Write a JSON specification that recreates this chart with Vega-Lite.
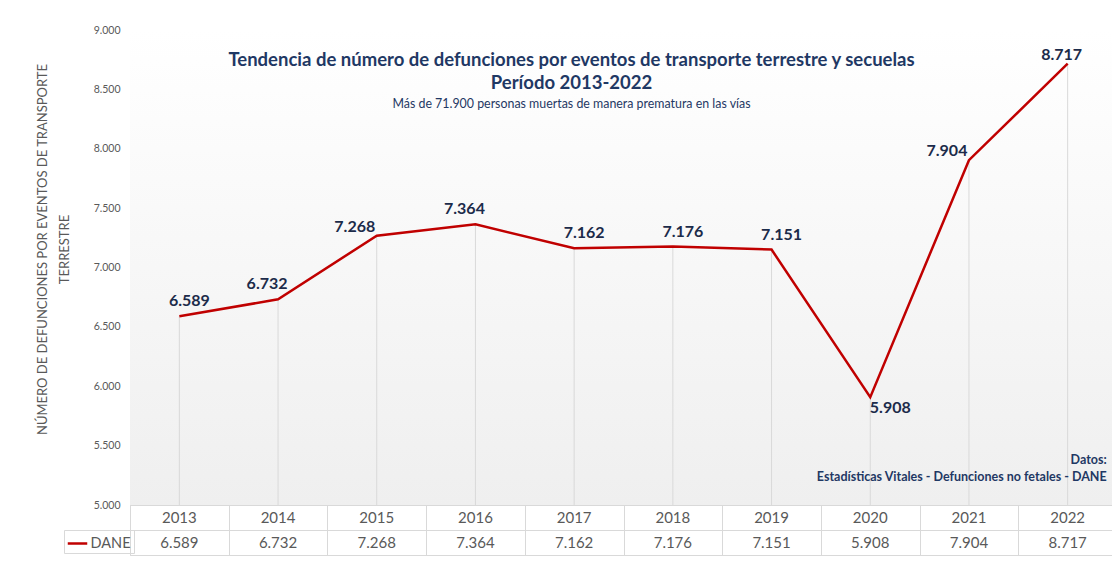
{
  "$schema": "https://vega.github.io/schema/vega-lite/v6.json",
  "padding": {"left": 36, "top": 25, "right": 0, "bottom": 0},
  "background": "#ffffff",
  "bounds": "flush",
  "spacing": 0,
  "config": {
    "locale": {"number": {"decimal": ",", "thousands": ".", "grouping": [3], "currency": ["$", ""]}},
    "font": "Lato"
  },
  "data": {
    "values": [
      {"anio": "2013", "valor": 6589},
      {"anio": "2014", "valor": 6732},
      {"anio": "2015", "valor": 7268},
      {"anio": "2016", "valor": 7364},
      {"anio": "2017", "valor": 7162},
      {"anio": "2018", "valor": 7176},
      {"anio": "2019", "valor": 7151},
      {"anio": "2020", "valor": 5908},
      {"anio": "2021", "valor": 7904},
      {"anio": "2022", "valor": 8717}
    ]
  },
  "vconcat": [
    {
      "width": 987,
      "height": 475,
      "view": {
        "stroke": null,
        "fill": {"gradient": "linear", "x1": 0, "y1": 0, "x2": 0, "y2": 1,
          "stops": [{"offset": 0, "color": "#ffffff"}, {"offset": 1, "color": "#efefef"}]}
      },
      "title": {
        "text": ["Tendencia de número de defunciones por eventos de transporte terrestre y secuelas", "Período 2013-2022"],
        "subtitle": "Más de 71.900 personas muertas de manera prematura en las vías",
        "anchor": "middle",
        "frame": "group",
        "offset": -85,
        "dx": -52,
        "font": "Lato",
        "fontSize": 18.5,
        "fontWeight": "bold",
        "color": "#1f3864",
        "lineHeight": 23,
        "subtitleFont": "Lato",
        "subtitleFontSize": 12.4,
        "subtitleColor": "#1f3864",
        "subtitlePadding": 5
      },
      "encoding": {
        "x": {"field": "anio", "type": "ordinal", "axis": null, "scale": {"type": "point", "padding": 0.5}},
        "y": {
          "field": "valor", "type": "quantitative",
          "scale": {"domain": [5000, 9000], "nice": false, "zero": false},
          "axis": {
            "values": [5000, 5500, 6000, 6500, 7000, 7500, 8000, 8500, 9000],
            "format": ",d",
            "domain": false, "ticks": false, "grid": false,
            "labelPadding": 10, "labelFontSize": 10.5, "labelColor": "#595959", "labelFont": "Lato",
            "title": ["NÚMERO DE DEFUNCIONES POR EVENTOS DE TRANSPORTE", "TERRESTRE"],
            "titleFontSize": 13, "titleFontWeight": "normal", "titleColor": "#595959", "titleFont": "Lato",
            "titleLineHeight": 22, "titlePadding": 22, "titleY": 219
          }
        }
      },
      "layer": [
        {
          "mark": {"type": "rule", "color": "#d9d9d9", "strokeWidth": 1},
          "encoding": {"y2": {"datum": 5000}}
        },
        {
          "mark": {"type": "line", "strokeWidth": 2.5},
          "encoding": {
            "color": {
              "datum": "DANE",
              "scale": {"range": ["#c00000"]},
              "legend": {
                "orient": "none", "legendX": -66, "legendY": 500,
                "title": null, "symbolType": "stroke", "symbolStrokeWidth": 2.5, "symbolSize": 380,
                "labelFontSize": 14.5, "labelOffset": 2, "labelColor": "#595959", "labelFont": "Lato",
                "strokeColor": "#d9d9d9", "padding": 2.5
              }
            }
          }
        },
        {
          "transform": [{"filter": {"field": "anio", "oneOf": ["2013", "2017", "2018", "2019"]}}],
          "mark": {"type": "text", "dx": 10, "dy": -15, "fontSize": 16, "fontWeight": "bold", "color": "#1c2b4a", "baseline": "middle"},
          "encoding": {"text": {"field": "valor", "format": ",d"}}
        },
        {
          "transform": [{"filter": {"field": "anio", "oneOf": ["2014", "2016"]}}],
          "mark": {"type": "text", "dx": -11, "dy": -15, "fontSize": 16, "fontWeight": "bold", "color": "#1c2b4a", "baseline": "middle"},
          "encoding": {"text": {"field": "valor", "format": ",d"}}
        },
        {
          "transform": [{"filter": {"field": "anio", "oneOf": ["2015", "2021"]}}],
          "mark": {"type": "text", "dx": -22, "dy": -9, "fontSize": 16, "fontWeight": "bold", "color": "#1c2b4a", "baseline": "middle"},
          "encoding": {"text": {"field": "valor", "format": ",d"}}
        },
        {
          "transform": [{"filter": {"field": "anio", "oneOf": ["2020"]}}],
          "mark": {"type": "text", "dx": 20, "dy": 11, "fontSize": 16, "fontWeight": "bold", "color": "#1c2b4a", "baseline": "middle"},
          "encoding": {"text": {"field": "valor", "format": ",d"}}
        },
        {
          "transform": [{"filter": {"field": "anio", "oneOf": ["2022"]}}],
          "mark": {"type": "text", "dx": -6, "dy": -9, "fontSize": 16, "fontWeight": "bold", "color": "#1c2b4a", "baseline": "middle"},
          "encoding": {"text": {"field": "valor", "format": ",d"}}
        },
        {
          "transform": [{"filter": {"field": "anio", "equal": "2022"}}],
          "mark": {"type": "text", "text": "Datos:", "align": "right", "dx": 39, "baseline": "middle", "fontSize": 12.5, "fontWeight": "bold", "color": "#1f3864"},
          "encoding": {"y": {"datum": 5379}}
        },
        {
          "transform": [{"filter": {"field": "anio", "equal": "2022"}}],
          "mark": {"type": "text", "text": "Estadísticas Vitales - Defunciones no fetales - DANE", "align": "right", "dx": 39, "baseline": "middle", "fontSize": 12.5, "fontWeight": "bold", "color": "#1f3864"},
          "encoding": {"y": {"datum": 5236}}
        }
      ]
    },
    {
      "width": 987,
      "height": 50,
      "view": {"stroke": "#d9d9d9", "fill": "#ffffff"},
      "encoding": {
        "x": {
          "field": "anio", "type": "ordinal",
          "scale": {"type": "band", "paddingInner": 0, "paddingOuter": 0},
          "axis": {"labels": false, "ticks": false, "domain": false, "title": null, "grid": true, "tickBand": "extent", "gridColor": "#d9d9d9", "gridWidth": 1}
        }
      },
      "layer": [
        {
          "mark": {"type": "text", "fontSize": 15, "color": "#595959", "baseline": "middle"},
          "encoding": {
            "y": {"datum": "Año", "type": "nominal",
              "scale": {"domain": ["Año", "DANE"], "paddingInner": 0, "paddingOuter": 0},
              "axis": {"labels": false, "ticks": false, "domain": false, "title": null, "grid": true, "tickBand": "extent", "gridColor": "#d9d9d9"}},
            "text": {"field": "anio"}
          }
        },
        {
          "mark": {"type": "text", "fontSize": 15, "color": "#595959", "baseline": "middle"},
          "encoding": {
            "y": {"datum": "DANE", "type": "nominal"},
            "text": {"field": "valor", "format": ",d"}
          }
        }
      ]
    }
  ]
}
